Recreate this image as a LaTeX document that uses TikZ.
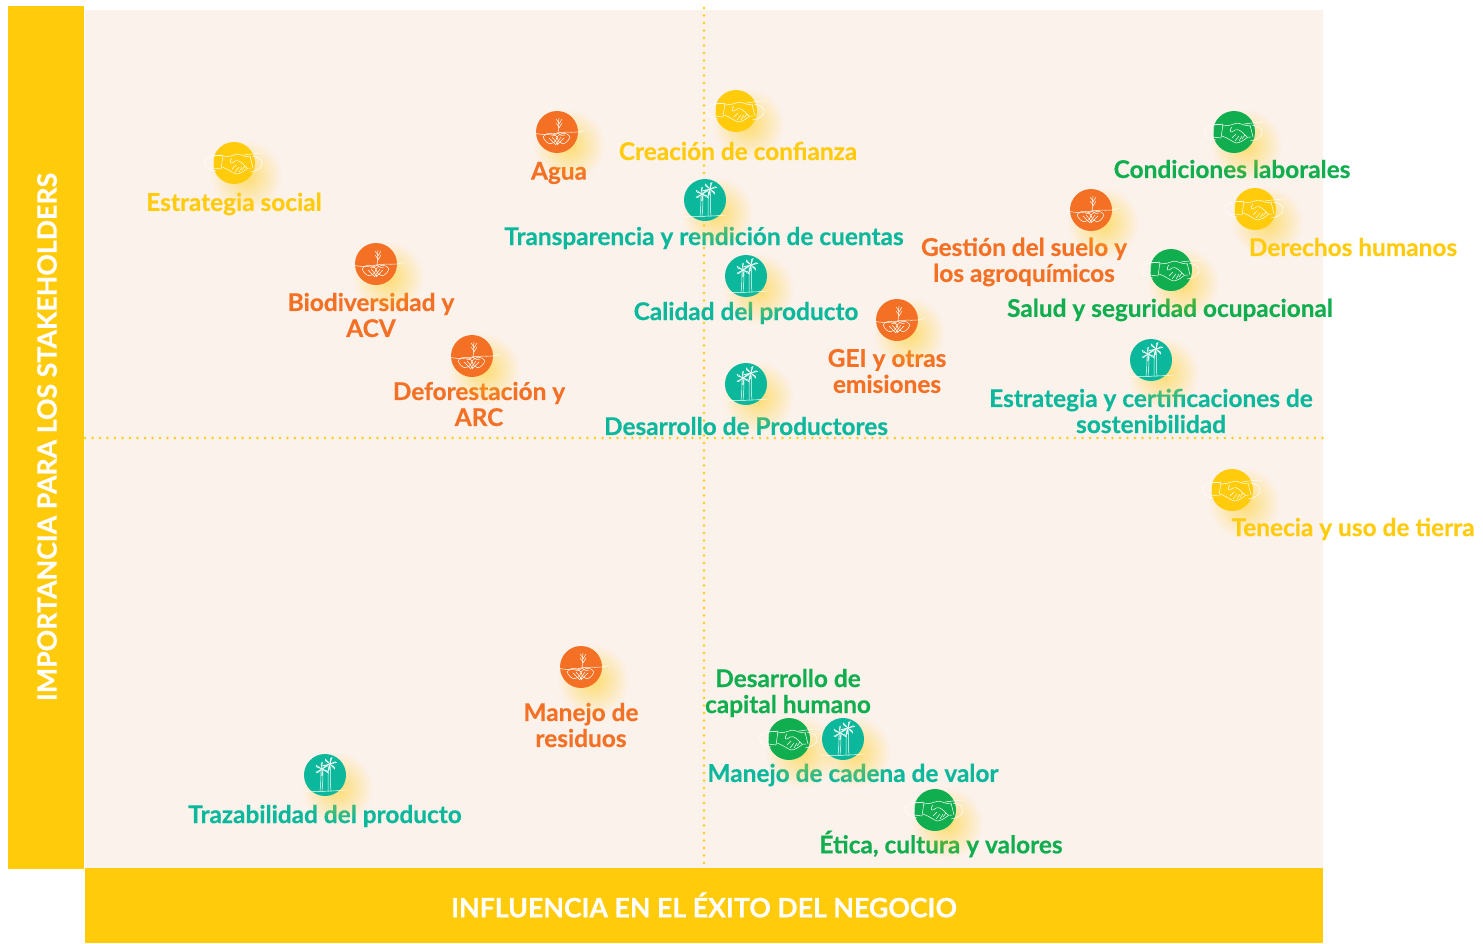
\documentclass[tikz,border=0pt]{standalone}
\usepackage{fontspec}
\setmainfont{Lato}[BoldFont={Lato Bold},BoldFeatures={FakeBold=0.5}]
\usetikzlibrary{fadings}
\definecolor{cbg}{HTML}{FCF2EC}
\definecolor{cyel}{HTML}{FFCB0B}
\definecolor{cora}{HTML}{F47024}
\definecolor{cteal}{HTML}{0CB89B}
\definecolor{cgrn}{HTML}{10AE4E}
\tikzfading[name=glowfade, inner color=transparent!45, outer color=transparent!100]
\tikzset{
  x=1pt,y=-1pt,
  lab/.style={font=\fontsize{24.4}{26}\selectfont\bfseries, align=center, inner sep=0pt},
  title/.style={font=\fontsize{26.7}{28}\selectfont\bfseries, text=white, inner sep=0pt},
  dot/.style={cyel, line width=2.7pt, line cap=round, dash pattern=on 0pt off 7.5pt},
  disc/.style={circle, inner sep=0pt, minimum size=42pt, fill=#1},
  ico/.style={white, line width=.5pt, line cap=round, line join=round},
  pics/plantico/.style={code={
    \draw[ico] (-24,1) .. controls (-14,3) and (-8,3) .. (0,1) .. controls (10,-1) and (20,2) .. (28,-2);
    \draw[ico] (1,1) .. controls (2,-4) and (1,-8) .. (2,-14);
    \draw[ico] (2,-9) -- (-1,-13) (2,-8) -- (5,-13) (2,-5) -- (-1,-9) (2,-4) -- (5,-9);
    \draw[ico] (1,1) .. controls (-3,4) .. (-6,3) (1,1) .. controls (5,4) .. (8,3);
    \draw[ico] (-14,5) .. controls (-10,-1) and (-3,1) .. (0,5) .. controls (-2,14) and (-10,14) .. (-14,5);
    \draw[ico] (13,5) .. controls (9,-1) and (3,1) .. (0,5) .. controls (2,14) and (9,14) .. (13,5);
    \draw[ico] (-8,6) -- (-1,13) (-5,5) -- (1,12) (7,6) -- (0,13) (4,5) -- (-1,12);
  }},
  pics/shakeico/.style={code={
    \draw[ico] (-30,-2) .. controls (-24,-9) and (-14,-8) .. (-12,-7) (10,-8) .. controls (18,-9) and (24,-10) .. (30,-10);
    \draw[ico] (-18,8) .. controls (-26,7) and (-31,3) .. (-29,-2) (16,9) .. controls (24,8) and (29,4) .. (28,-1) .. controls (27,-5) and (22,-6) .. (18,-7);
    \draw[ico] (-20,-7) -- (-11,-8) -- (-13,6) -- (-21,5) -- cycle;
    \draw[ico] (-11,-6) .. controls (-6,-7) and (-3,-6) .. (0,-8) .. controls (4,-10) and (7,-8) .. (10,-7) -- (16,-6);
    \draw[ico] (-12,4) .. controls (-6,6) and (-3,9) .. (2,11) .. controls (6,11) and (10,8) .. (14,5) -- (17,5);
    \draw[ico] (16,-7) -- (19,5) (-2,-5) .. controls (-6,0) and (-3,2) .. (1,-2) .. controls (5,-4) and (9,1) .. (13,5);
    \draw[ico] (-2,6) -- (2,2) (1,9) -- (5,4) (5,9) -- (8,4) (8,7) -- (11,3);
  }},
  pics/palmico/.style={code={
    \draw[ico] (-22,16) .. controls (-10,17) and (10,16) .. (22,15);
    \draw[ico] (-5,16) .. controls (-4,6) and (-4,0) .. (-4,-6) (-3,16) .. controls (-2,6) and (-2,0) .. (-2,-6);
    \draw[ico] (3,16) .. controls (3,6) and (3,-2) .. (4,-10) (6,16) .. controls (5,6) and (5,-2) .. (6,-10);
    \foreach \a in {20,80,140,200,260,320}{
      \draw[ico] (-3,-6) -- ++(\a:5.5) -- ++(\a+50:2) -- (-3,-6);
      \draw[ico] (5,-11) -- ++(\a+15:5.5) -- ++(\a+65:2) -- (5,-11);
    }
  }},
}
\newcommand{\glowat}[2]{\fill[cyel, path fading=glowfade] (#1+12,#2+13) circle[radius=36];}
\begin{document}
\begin{tikzpicture}
\useasboundingbox (0,0) rectangle (1483,943);
\fill[cbg] (85,10) rectangle (1323,868);
% dotted axes
\coordinate (hl) at (85,438); \coordinate (hr) at (1325,438);
\coordinate (vt) at (704,8); \coordinate (vb) at (704,866);
\draw[dot] (hl) -- (hr);
\draw[dot] (vt) -- (vb);
% axis bars
\fill[cyel] (8,6) rectangle (84,869);
\fill[cyel] (85,868) rectangle (1323,943);
\node[title, rotate=90] (ytitle) at (47,437) {IMPORTANCIA PARA LOS STAKEHOLDERS};
\node[title] (xtitle) at (704,905) {INFLUENCIA EN EL ÉXITO DEL NEGOCIO};
% labels
\node[lab,text=cyel] (t1) at (234,204) {Estrategia social};
\node[lab,text=cora] (t2) at (559,173) {Agua};
\node[lab,text=cyel] (t3) at (738,151) {Creación de confianza};
\node[lab,text=cteal] (t4) at (704,238) {Transparencia y rendición de cuentas};
\node[lab,text=cgrn] (t5) at (1232,169) {Condiciones laborales};
\node[lab,text=cyel] (t6) at (1353,247) {Derechos humanos};
\node[lab,text=cora] (t7) at (1024,262) {Gestión del suelo y\\los agroquímicos};
\node[lab,text=cgrn] (t8) at (1170,310) {Salud y seguridad ocupacional};
\node[lab,text=cteal] (t9) at (746,313) {Calidad del producto};
\node[lab,text=cora] (t10) at (371,315) {Biodiversidad y\\ACV};
\node[lab,text=cora] (t11) at (479,404) {Deforestación y\\ARC};
\node[lab,text=cora] (t12) at (887,371) {GEI y otras\\emisiones};
\node[lab,text=cteal] (t13) at (1151,411) {Estrategia y certificaciones de\\sostenibilidad};
\node[lab,text=cteal] (t14) at (746,426) {Desarrollo de Productores};
\node[lab,text=cyel] (t15) at (1353,529) {Tenecia y uso de tierra};
\node[lab,text=cora] (t16) at (581,725) {Manejo de\\residuos};
\node[lab,text=cgrn] (t17) at (788,693) {Desarrollo de\\capital humano};
\node[lab,text=cteal] (t18) at (853,775) {Manejo de cadena de valor};
\node[lab,text=cteal] (t19) at (325,816) {Trazabilidad del producto};
\node[lab,text=cgrn] (t20) at (941,844) {Ética, cultura y valores};
% glows
\foreach \x/\y in {234/163,736/111,1255/209,1232/490,557/132,376/264,472/356,1091/210,897/320,581/667,705/200,746/276,746/384,1151/360,843/739,325/775,1234/132,1171/270,789/739,935/810}{\glowat{\x}{\y}}
% discs
\foreach \n/\x/\y in {y1/234/163,y2/736/111,y3/1255/209,y4/1232/490}{
  \node[disc=cyel] (\n) at (\x,\y) {}; \pic at (\x,\y) {shakeico};}
\foreach \n/\x/\y in {o1/557/132,o2/376/264,o3/472/356,o4/1091/210,o5/897/320,o6/581/667}{
  \node[disc=cora] (\n) at (\x,\y) {}; \pic at (\x,\y) {plantico};}
\foreach \n/\x/\y in {g1/1234/132,g2/1171/270,g3/789/739,g4/935/810}{
  \node[disc=cgrn] (\n) at (\x,\y) {}; \pic at (\x,\y) {shakeico};}
\foreach \n/\x/\y in {c1/705/200,c2/746/276,c3/746/384,c4/1151/360,c5/843/739,c6/325/775}{
  \node[disc=cteal] (\n) at (\x,\y) {}; \pic at (\x,\y) {palmico};}
\end{tikzpicture}
\end{document}
